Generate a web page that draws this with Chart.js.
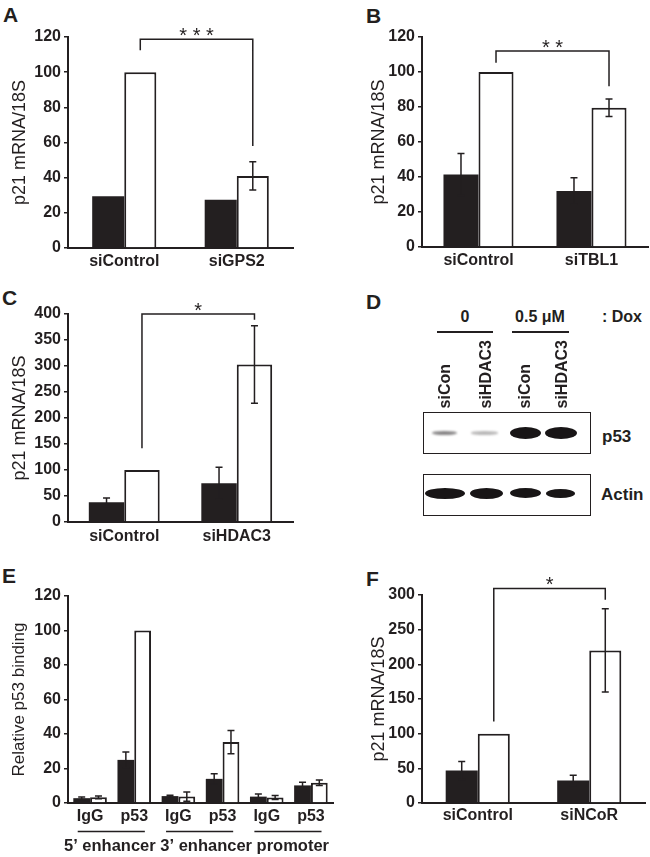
<!DOCTYPE html>
<html>
<head>
<meta charset="utf-8">
<script src="https://cdn.jsdelivr.net/npm/chart.js@4.4.1/dist/chart.umd.min.js"></script>
<style>
html,body{margin:0;padding:0;background:#fff;}
body{position:relative;width:650px;height:857px;overflow:hidden;font-family:"Liberation Sans",Arial,Helvetica,sans-serif;color:#231f20;}
canvas{position:absolute;}
.plab{position:absolute;font-weight:bold;font-size:21px;line-height:21px;}
.t{position:absolute;font-weight:bold;font-size:16px;line-height:16px;white-space:nowrap;}
.vt{position:absolute;font-weight:bold;font-size:16px;line-height:16px;white-space:nowrap;writing-mode:vertical-rl;transform:rotate(180deg);}
.box{position:absolute;border:1.5px solid #231f20;box-sizing:border-box;background:#fff;}
.band{position:absolute;border-radius:50%;}
.rule{position:absolute;height:2px;background:#231f20;}
</style>
</head>
<body>
<div class="plab" style="left:3px;top:4px">A</div>
<div class="plab" style="left:366px;top:5px">B</div>
<div class="plab" style="left:2px;top:287px">C</div>
<div class="plab" style="left:366px;top:291px">D</div>
<div class="plab" style="left:2px;top:565px">E</div>
<div class="plab" style="left:366px;top:568px">F</div>

<canvas id="cA"></canvas>
<canvas id="cB"></canvas>
<canvas id="cC"></canvas>
<canvas id="cE"></canvas>
<canvas id="cF"></canvas>
<div id="blot"></div>

<script>
// ================= DATA =================
// Panel A
const aLabels = ['siControl', 'siGPS2'];
const aBlack = [29.5, 27.5];
const aBlackErr = [0, 0];
const aWhite = [100, 41];
const aWhiteErr = [0, 8];
const aSig = { from: 0, to: 1, top: 118.7, leftEnd: 112.5, rightEnd: 58, label: '***' };
const aAxis = { max: 120, step: 20, title: 'p21 mRNA/18S' };

// Panel B
const bLabels = ['siControl', 'siTBL1'];
const bBlack = [41.5, 32];
const bBlackErr = [12, 7.6];
const bWhite = [100, 79.6];
const bWhiteErr = [0, 5];
const bSig = { from: 0, to: 1, top: 112, leftEnd: 105.3, rightEnd: 91.8, label: '**' };
const bAxis = { max: 120, step: 20, title: 'p21 mRNA/18S' };

// Panel C
const cLabels = ['siControl', 'siHDAC3'];
const cBlack = [37.8, 74.4];
const cBlackErr = [8.4, 30.7];
const cWhite = [100, 303];
const cWhiteErr = [0, 74.5];
const cSig = { from: 0, to: 1, top: 400, leftEnd: 142, rightEnd: 389, label: '*' };
const cAxis = { max: 400, step: 50, title: 'p21 mRNA/18S' };

// Panel D (western blot)
const dDoses = ['0', '0.5 \u03bcM'];
const dDoseUnit = ': Dox';
const dLanes = ['siCon', 'siHDAC3', 'siCon', 'siHDAC3'];
const dBlots = ['p53', 'Actin'];

// Panel E
const eLabels = ['IgG', 'p53', 'IgG', 'p53', 'IgG', 'p53'];
const eGroups = ['5\u2019 enhancer', '3\u2019 enhancer', 'promoter'];
const eBlack = [2.8, 25, 4, 14, 3.7, 10.2];
const eBlackErr = [0.7, 4.5, 0.5, 3, 1.5, 1.8];
const eWhite = [3.3, 100, 3.7, 35.3, 3.2, 11.7];
const eWhiteErr = [0.8, 0, 2.7, 6.8, 1.2, 1.6];
const eAxis = { max: 120, step: 20, title: 'Relative p53 binding' };

// Panel F
const fLabels = ['siControl', 'siNCoR'];
const fBlack = [47, 32.5];
const fBlackErr = [13, 7.5];
const fWhite = [100, 220];
const fWhiteErr = [0, 60];
const fSig = { from: 0, to: 1, top: 309.5, leftEnd: 117.5, rightEnd: 293, label: '*' };
const fAxis = { max: 300, step: 50, title: 'p21 mRNA/18S' };

// ================= STYLE / LAYOUT =================
const INK = '#231f20';
const FONT = '"Liberation Sans", Arial, Helvetica, sans-serif';
Chart.defaults.font.family = FONT;
Chart.defaults.color = INK;

const annot = {
  id: 'annot',
  afterDatasetsDraw(chart, args, opts) {
    const ctx = chart.ctx, y = chart.scales.y;
    const cap = 3.5;
    ctx.save();
    ctx.strokeStyle = INK;
    ctx.lineWidth = 1.5;
    (opts.errors || []).forEach((errs, di) => {
      const meta = chart.getDatasetMeta(di);
      const vals = chart.data.datasets[di].data;
      errs.forEach((e, i) => {
        if (!e) return;
        const x = meta.data[i].x;
        const yt = y.getPixelForValue(vals[i] + e);
        const yb = y.getPixelForValue(vals[i] - e);
        ctx.beginPath();
        ctx.moveTo(x, yt); ctx.lineTo(x, yb);
        ctx.moveTo(x - cap, yt); ctx.lineTo(x + cap, yt);
        ctx.moveTo(x - cap, yb); ctx.lineTo(x + cap, yb);
        ctx.stroke();
      });
    });
    const b = opts.bracket;
    if (b) {
      const meta = chart.getDatasetMeta(1);
      const x1 = meta.data[b.from].x, x2 = meta.data[b.to].x;
      const yt = y.getPixelForValue(b.top);
      ctx.beginPath();
      ctx.moveTo(x1, y.getPixelForValue(b.leftEnd));
      ctx.lineTo(x1, yt);
      ctx.lineTo(x2, yt);
      ctx.lineTo(x2, y.getPixelForValue(b.rightEnd));
      ctx.stroke();
      ctx.font = '20px ' + FONT;
      ctx.textAlign = 'center';
      ctx.textBaseline = 'alphabetic';
      ctx.fillStyle = INK;
      ctx.fillText(b.label.split('').join(' '), (x1 + x2) / 2, yt + 3);
    }
    ctx.restore();
  },
  afterDraw(chart, args, opts) {
    if (!opts.groups) return;
    const xs = chart.scales.x, ca = chart.chartArea, ctx = chart.ctx;
    const n = chart.data.labels.length;
    const per = n / opts.groups.length;
    const w = (ca.right - ca.left) / n;
    ctx.save();
    ctx.strokeStyle = INK;
    ctx.lineWidth = 1.5;
    opts.groups.forEach((g, gi) => {
      const c0 = xs.getPixelForValue(gi * per);
      const c1 = xs.getPixelForValue(gi * per + per - 1);
      ctx.beginPath();
      ctx.moveTo(c0 - 0.28 * w, ca.bottom + 28.5);
      ctx.lineTo(c1 + 0.24 * w, ca.bottom + 28.5);
      ctx.stroke();
    });
    ctx.font = 'bold 16.5px ' + FONT;
    ctx.textAlign = 'center';
    ctx.textBaseline = 'middle';
    ctx.fillStyle = INK;
    ctx.fillText(opts.groups.join(' '), (ca.left + ca.right) / 2 - 4, ca.bottom + 43);
    ctx.restore();
  }
};

function barChart(id, box, plot, d) {
  const cv = document.getElementById(id);
  cv.width = box.w; cv.height = box.h;
  cv.style.left = box.x + 'px'; cv.style.top = box.y + 'px';
  cv.style.width = box.w + 'px'; cv.style.height = box.h + 'px';
  return new Chart(cv, {
    type: 'bar',
    data: {
      labels: d.labels,
      datasets: [
        { data: d.black, backgroundColor: INK, borderWidth: 0, categoryPercentage: d.cat, barPercentage: 1 },
        { data: d.white, backgroundColor: '#ffffff', borderColor: INK, borderWidth: 2, categoryPercentage: d.cat, barPercentage: 1 }
      ]
    },
    options: {
      responsive: false,
      animation: false,
      devicePixelRatio: 1,
      layout: { padding: { left: 0, top: plot.t - box.y, right: box.x + box.w - plot.r, bottom: 0 } },
      plugins: {
        legend: { display: false },
        tooltip: { enabled: false },
        annot: { errors: [d.blackErr, d.whiteErr], bracket: d.sig, groups: d.groups }
      },
      scales: {
        x: {
          grid: { display: false, drawTicks: false },
          border: { display: true, color: INK, width: 2 },
          ticks: { color: INK, font: { family: FONT, size: 16, weight: 'bold' }, padding: d.xPad, maxRotation: 0, autoSkip: false },
          afterFit: s => { s.height = box.y + box.h - plot.b; }
        },
        y: {
          min: 0, max: d.axis.max,
          ticks: { stepSize: d.axis.step, color: INK, font: { family: FONT, size: 16, weight: 'bold' }, padding: 3 },
          grid: { drawOnChartArea: false, drawTicks: true, tickLength: 4, color: INK, lineWidth: 1.5 },
          border: { display: true, color: INK, width: 2 },
          title: { display: true, text: d.axis.title, color: INK, font: { family: FONT, size: d.titleSize, weight: 'normal' },
                   padding: { top: d.titleX - box.x - d.titleSize * 0.6, bottom: 0 } },
          afterFit: s => { s.width = plot.l - box.x; }
        }
      }
    },
    plugins: [annot]
  });
}

barChart('cA', { x: 0, y: 18, w: 300, h: 262 }, { l: 68, t: 37, r: 293, b: 248 },
  { labels: aLabels, black: aBlack, white: aWhite, blackErr: aBlackErr, whiteErr: aWhiteErr, sig: aSig, axis: aAxis, cat: 0.57, xPad: 4, titleX: 20, titleSize: 18 });
barChart('cB', { x: 358, y: 18, w: 292, h: 262 }, { l: 422, t: 37, r: 648, b: 247 },
  { labels: bLabels, black: bBlack, white: bWhite, blackErr: bBlackErr, whiteErr: bWhiteErr, sig: bSig, axis: bAxis, cat: 0.62, xPad: 3.5, titleX: 379, titleSize: 18 });
barChart('cC', { x: 0, y: 292, w: 300, h: 260 }, { l: 68, t: 314, r: 293, b: 522 },
  { labels: cLabels, black: cBlack, white: cWhite, blackErr: cBlackErr, whiteErr: cWhiteErr, sig: cSig, axis: cAxis, cat: 0.63, xPad: 5, titleX: 20, titleSize: 18 });
barChart('cE', { x: 0, y: 575, w: 345, h: 282 }, { l: 68, t: 596, r: 333, b: 803 },
  { labels: eLabels, black: eBlack, white: eWhite, blackErr: eBlackErr, whiteErr: eWhiteErr, groups: eGroups, axis: eAxis, cat: 0.76, xPad: 4, titleX: 19, titleSize: 17 });
barChart('cF', { x: 358, y: 562, w: 292, h: 278 }, { l: 422, t: 595, r: 645, b: 803 },
  { labels: fLabels, black: fBlack, white: fWhite, blackErr: fBlackErr, whiteErr: fWhiteErr, sig: fSig, axis: fAxis, cat: 0.575, xPad: 3, titleX: 379, titleSize: 18 });

// ================= PANEL D (blot drawing) =================
(function () {
  const root = document.getElementById('blot');
  const add = (cls, style, text) => {
    const el = document.createElement('div');
    el.className = cls;
    el.setAttribute('style', style);
    if (text !== undefined) el.textContent = text;
    root.appendChild(el);
    return el;
  };
  const laneX = [445, 486, 525, 562];
  const doseCx = [465, 540];
  dDoses.forEach((t, i) => {
    const el = add('t', 'top:309px;left:0;width:100px;text-align:center;', t);
    el.style.left = (doseCx[i] - 50) + 'px';
  });
  add('t', 'top:309px;left:602px;', dDoseUnit);
  add('rule', 'left:437px;width:56px;top:331px;');
  add('rule', 'left:512px;width:57px;top:331px;');
  dLanes.forEach((t, i) => add('vt', 'left:' + (laneX[i] - 8) + 'px;bottom:449px;', t));
  add('box', 'left:423px;top:412px;width:168px;height:42px;');
  add('box', 'left:423px;top:474px;width:168px;height:42px;');
  const p53 = [
    { cx: 444, w: 25, h: 4, c: 'rgba(35,31,32,0.55)', b: 0.8 },
    { cx: 484, w: 27, h: 3.5, c: 'rgba(35,31,32,0.32)', b: 0.9 },
    { cx: 525, w: 31, h: 12, c: '#181516', b: 0.7 },
    { cx: 561, w: 32, h: 12, c: '#181516', b: 0.7 }
  ];
  p53.forEach(s => add('band', 'left:' + (s.cx - s.w / 2) + 'px;top:' + (433 - s.h / 2) + 'px;width:' + s.w + 'px;height:' + s.h + 'px;background:' + s.c + ';filter:blur(' + s.b + 'px);'));
  const actin = [
    { cx: 445, w: 40, h: 11 },
    { cx: 486, w: 33, h: 11 },
    { cx: 525, w: 31, h: 10 },
    { cx: 560, w: 29, h: 9 }
  ];
  actin.forEach(s => add('band', 'left:' + (s.cx - s.w / 2) + 'px;top:' + (493 - s.h / 2) + 'px;width:' + s.w + 'px;height:' + s.h + 'px;background:#181516;filter:blur(0.7px);'));
  add('t', 'top:428px;left:602px;font-size:17px;line-height:17px;', dBlots[0]);
  add('t', 'top:486px;left:601px;font-size:17px;line-height:17px;', dBlots[1]);
})();
</script>
</body>
</html>
